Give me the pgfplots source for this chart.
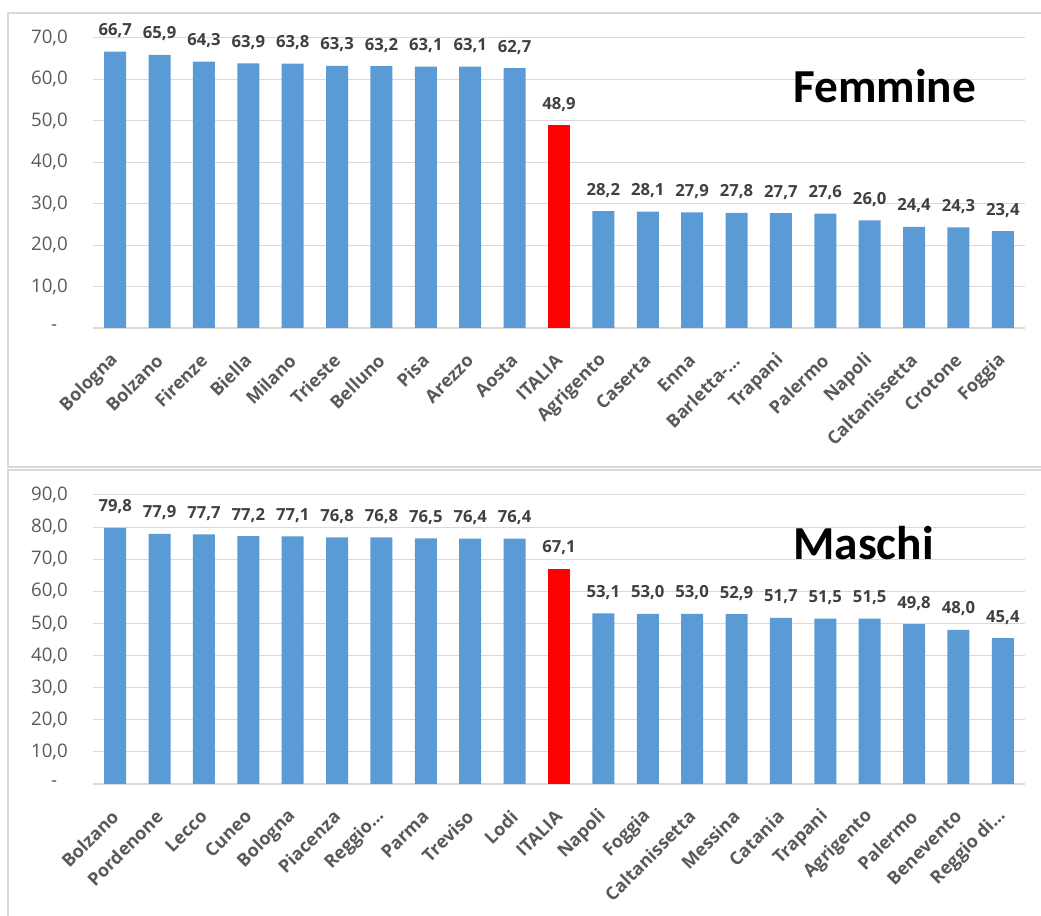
\documentclass[border=0pt]{standalone}
\usepackage{pgfplots}
\pgfplotsset{compat=1.18}
\usepackage{fontspec}
\setmainfont{Open Sans}
\newfontfamily\titlefont{Carlito}
\definecolor{barblue}{HTML}{5B9BD5}
\definecolor{gridgray}{HTML}{D9D9D9}
\definecolor{ticktext}{HTML}{595959}
\definecolor{labeltext}{HTML}{404040}
\pgfplotsset{
  panel/.style={
    anchor=south west, scale only axis, width=699pt,
    xmin=-0.5, xmax=20.5, ymin=0,
    clip=false,
    axis x line*=bottom, axis y line*=left,
    x axis line style={-, gridgray, line width=1.2pt},
    y axis line style={draw=none},
    ymajorgrids, major grid style={gridgray, line width=0.75pt},
    major tick length=0pt,
    xtick={0,...,20},
    ybar, bar width=16.5pt, bar shift=0pt,
    yticklabel style={font=\fontsize{14}{16}\selectfont, text=ticktext, anchor=east, inner sep=0pt, xshift=-18.75pt},
    xticklabel style={font=\bfseries\fontsize{13.5}{15}\selectfont, text=ticktext, yshift=-22pt, xshift=0pt, rotate=45, anchor=east, inner sep=0pt},
    /pgf/number format/.cd, fixed, fixed zerofill, precision=1, use comma, assume math mode=true, /pgfplots/.cd,
    nodes near coords,
    every node near coord/.append style={font=\bfseries\fontsize{12.5}{14}\selectfont, text=labeltext, anchor=base, inner sep=0pt, yshift=12pt},
  }
}
\begin{document}
\begin{tikzpicture}
\useasboundingbox (0,0) rectangle (780.75pt,687pt);
\draw[gridgray, line width=1.2pt] (6pt,336.75pt) rectangle (800pt,677.25pt);
\draw[gridgray, line width=1.2pt] (6pt,-20pt) rectangle (800pt,334.5pt);

\begin{axis}[panel, at={(69.75pt,441pt)}, height=217.5pt, ymax=70,
  ytick={0,10,...,70},
  yticklabels={{-\hphantom{0}},{10,0},{20,0},{30,0},{40,0},{50,0},{60,0},{70,0}},
  xticklabels={Bologna,Bolzano,Firenze,Biella,Milano,Trieste,Belluno,Pisa,Arezzo,Aosta,ITALIA,Agrigento,Caserta,Enna,Barletta-…,Trapani,Palermo,Napoli,Caltanissetta,Crotone,Foggia}]
\addplot[fill=barblue, draw=none] coordinates {
 (0,66.7) (1,65.9) (2,64.3) (3,63.9) (4,63.8) (5,63.3) (6,63.2) (7,63.1) (8,63.1) (9,62.7)
 (11,28.2) (12,28.1) (13,27.9) (14,27.8) (15,27.7) (16,27.6) (17,26.0) (18,24.4) (19,24.3) (20,23.4)};
\addplot[fill=red, draw=none] coordinates {(10,48.9)};
\end{axis}

\begin{axis}[panel, at={(69.75pt,99pt)}, height=216.75pt, ymax=90,
  ytick={0,10,...,90},
  yticklabels={{-\hphantom{0}},{10,0},{20,0},{30,0},{40,0},{50,0},{60,0},{70,0},{80,0},{90,0}},
  xticklabels={Bolzano,Pordenone,Lecco,Cuneo,Bologna,Piacenza,Reggio…,Parma,Treviso,Lodi,ITALIA,Napoli,Foggia,Caltanissetta,Messina,Catania,Trapani,Agrigento,Palermo,Benevento,Reggio di…}]
\addplot[fill=barblue, draw=none] coordinates {
 (0,79.8) (1,77.9) (2,77.7) (3,77.2) (4,77.1) (5,76.8) (6,76.8) (7,76.5) (8,76.4) (9,76.4)
 (11,53.1) (12,53.0) (13,53.0) (14,52.9) (15,51.7) (16,51.5) (17,51.5) (18,49.8) (19,48.0) (20,45.4)};
\addplot[fill=red, draw=none] coordinates {(10,67.1)};
\end{axis}

\node[anchor=base west, inner sep=0pt, font=\titlefont\bfseries\fontsize{35.5}{40}\selectfont] at (594.75pt,609.75pt) {Femmine};
\node[anchor=base west, inner sep=0pt, font=\titlefont\bfseries\fontsize{35.5}{40}\selectfont] at (594.75pt,267pt) {Maschi};
\end{tikzpicture}
\end{document}
